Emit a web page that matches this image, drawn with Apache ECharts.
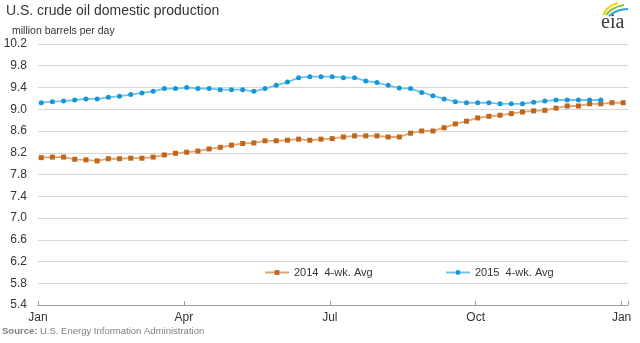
<!DOCTYPE html>
<html>
<head>
<meta charset="utf-8">
<script src="https://cdn.jsdelivr.net/npm/echarts@6/dist/echarts.min.js"></script>
<style>
html,body{margin:0;padding:0;background:#fff;}
#chart{width:640px;height:343px;}
</style>
</head>
<body>
<div id="chart"></div>
<script>
// Week-ending days (days after Jan 1) of the weekly observations
var weekDays = [2,9,16,23,30,37,44,51,58,65,72,79,86,93,100,107,114,121,128,135,142,149,156,163,170,177,184,191,198,205,212,219,226,233,240,247,254,261,268,275,282,289,296,303,310,317,324,331,338,345,352,359,366];

var prod2014 = [8.11,8.12,8.12,8.08,8.07,8.05,8.09,8.09,8.10,8.10,8.12,8.16,8.19,8.21,8.23,8.27,8.30,8.34,8.37,8.38,8.42,8.42,8.43,8.45,8.43,8.45,8.46,8.49,8.51,8.51,8.51,8.49,8.49,8.56,8.60,8.60,8.66,8.73,8.78,8.84,8.87,8.89,8.92,8.95,8.97,8.98,9.02,9.06,9.06,9.10,9.10,9.12,9.12];

var prod2015 = [9.12,9.14,9.15,9.17,9.19,9.19,9.22,9.24,9.27,9.30,9.33,9.38,9.38,9.40,9.38,9.38,9.36,9.36,9.36,9.33,9.38,9.44,9.50,9.58,9.60,9.60,9.60,9.58,9.58,9.52,9.49,9.44,9.39,9.38,9.31,9.25,9.19,9.14,9.12,9.12,9.12,9.10,9.10,9.10,9.13,9.15,9.17,9.17,9.17,9.17,9.17];

var seriesNames = ['2014  4-wk. Avg', '2015  4-wk. Avg'];
var xTickLabels = ['Jan','Apr','Jul','Oct','Jan'];
var xTickDays = [0, 91.25, 182.5, 273.75, 365];

var yMin = 5.4, yMax = 10.2, yStep = 0.4;

function pairs(vals) {
  return vals.map(function (v, i) { return [weekDays[i], v]; });
}

var FONT = '"Liberation Sans", Arial, sans-serif';

var chart = echarts.init(document.getElementById('chart'), null, {renderer: 'canvas'});
chart.setOption({
  animation: false,
  backgroundColor: '#ffffff',
  textStyle: {fontFamily: FONT},
  grid: {left: 38, right: 12, top: 44, bottom: 38, containLabel: false},
  legend: [
    {
      data: [seriesNames[0]],
      left: 259, top: 262,
      itemWidth: 24, itemHeight: 6, itemGap: 4,
      textStyle: {fontSize: 11, color: '#333', fontFamily: FONT}
    },
    {
      data: [seriesNames[1]],
      left: 440, top: 262,
      itemWidth: 24, itemHeight: 6, itemGap: 4,
      textStyle: {fontSize: 11, color: '#333', fontFamily: FONT}
    }
  ],
  xAxis: {
    type: 'value',
    min: 0, max: 369, interval: 91.25,
    axisLine: {show: true, lineStyle: {color: '#9a9a9a', width: 1}},
    axisTick: {show: true, inside: true, length: 4, lineStyle: {color: '#9a9a9a'}},
    splitLine: {show: false},
    axisLabel: {
      fontSize: 12, color: '#333', margin: 7, fontFamily: FONT,
      showMaxLabel: true,
      formatter: function (v) {
        for (var i = 0; i < xTickDays.length; i++) {
          if (Math.abs(v - xTickDays[i]) < 0.01) return xTickLabels[i];
        }
        return '';
      }
    }
  },
  yAxis: {
    type: 'value',
    min: yMin, max: yMax, interval: yStep,
    axisLine: {show: false},
    axisTick: {show: false},
    splitLine: {show: true, lineStyle: {color: '#d6d6d6', width: 1}},
    axisLabel: {
      fontSize: 12, color: '#333', margin: 11, fontFamily: FONT,
      formatter: function (v) { return v.toFixed(1); }
    }
  },
  series: [
    {
      name: seriesNames[0],
      type: 'line',
      data: pairs(prod2014),
      symbol: 'rect', symbolSize: 5,
      itemStyle: {color: '#c0661b'},
      lineStyle: {color: '#dfa673', width: 1.8},
      z: 2
    },
    {
      name: seriesNames[1],
      type: 'line',
      data: pairs(prod2015),
      symbol: 'circle', symbolSize: 5,
      itemStyle: {color: '#1597d6'},
      lineStyle: {color: '#6fc2ec', width: 1.8},
      z: 3
    }
  ],
  graphic: [
    {type: 'text', left: 6, top: 4,
     style: {text: 'U.S. crude oil domestic production', fontSize: 14, fill: '#333', fontFamily: FONT}},
    {type: 'text', left: 12, top: 26,
     style: {text: 'million barrels per day', fontSize: 10.5, fill: '#333', fontFamily: FONT}},
    {type: 'text', left: 2, top: 326,
     style: {
       text: '{b|Source:} U.S. Energy Information Administration',
       fontSize: 9.5, fill: '#808080', fontFamily: FONT,
       rich: {b: {fontWeight: 'bold', fontSize: 9.5, fill: '#808080', fontFamily: FONT}}
     }},
    {type: 'text', x: 601, y: 33,
     style: {text: 'eia', fontSize: 20, fill: '#3a3a3a', fontFamily: '"Liberation Serif", "Times New Roman", serif', textVerticalAlign: 'bottom'}},
    {type: 'bezierCurve', shape: {x1: 603, y1: 15, cpx1: 607, cpy1: 6, x2: 618, y2: 3},
     style: {stroke: '#f2d31b', lineWidth: 2.2, fill: null}},
    {type: 'bezierCurve', shape: {x1: 606, y1: 15, cpx1: 612, cpy1: 7, x2: 624, y2: 5},
     style: {stroke: '#8cc63f', lineWidth: 2.2, fill: null}},
    {type: 'bezierCurve', shape: {x1: 609, y1: 16, cpx1: 617, cpy1: 9, x2: 628, y2: 9},
     style: {stroke: '#27a4dd', lineWidth: 2.2, fill: null}}
  ]
});
</script>
</body>
</html>
